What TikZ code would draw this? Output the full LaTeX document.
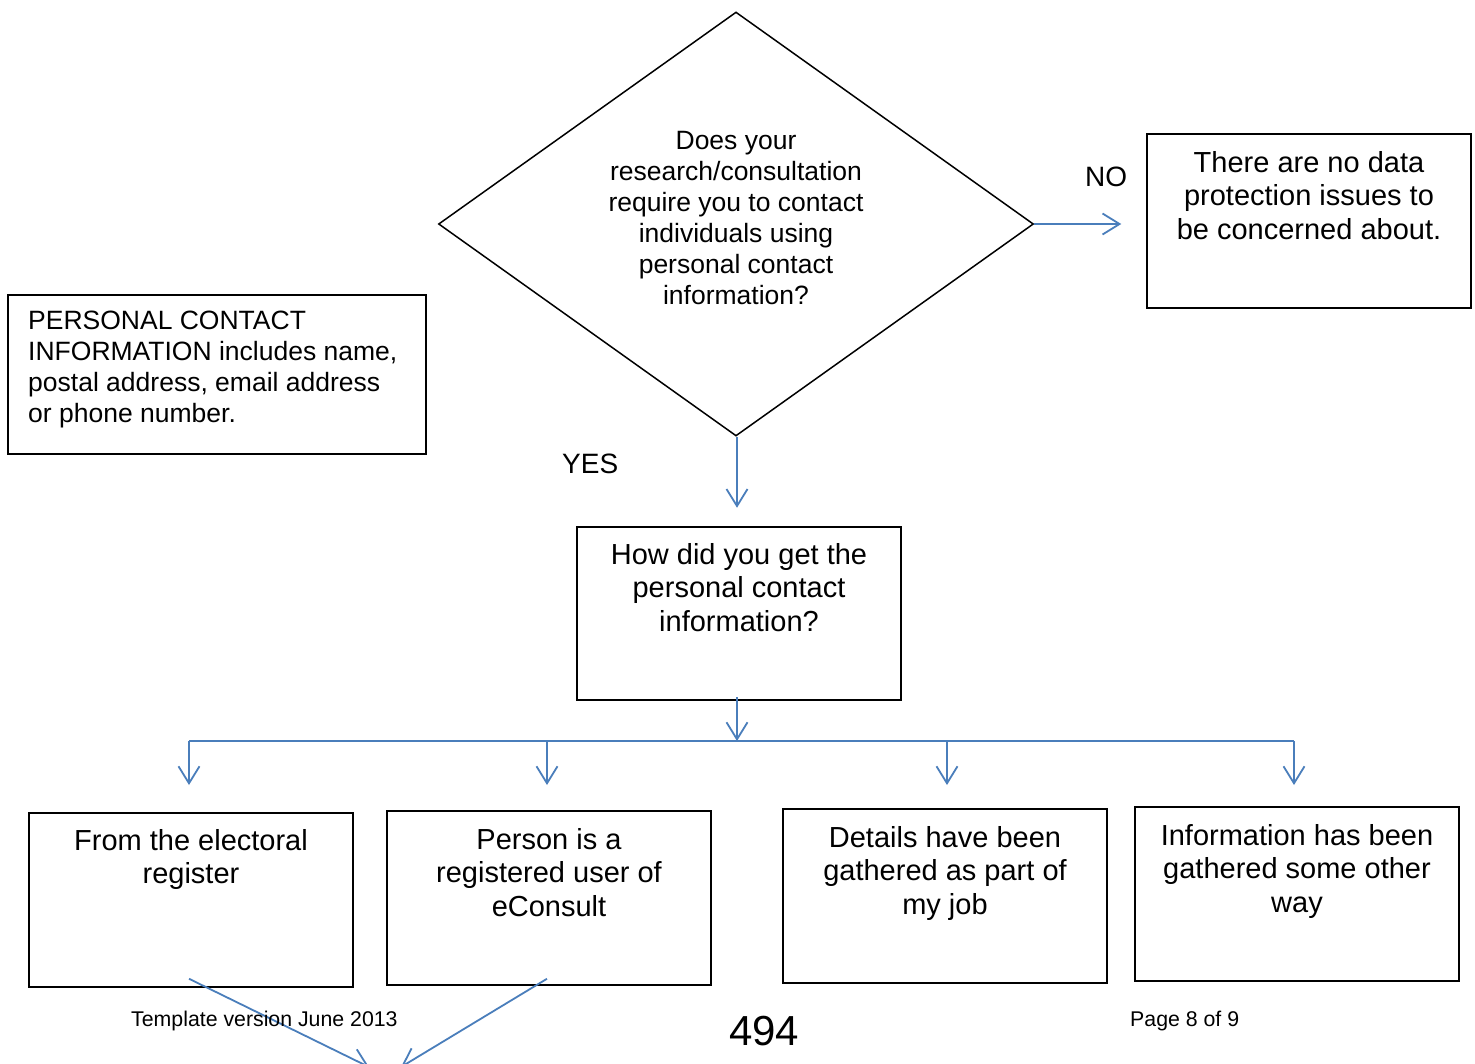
\documentclass[tikz,border=0pt]{standalone}
\usepackage{fontspec}
\setmainfont{Liberation Sans}
\usetikzlibrary{arrows.meta,shapes.geometric,calc}
\definecolor{flowblue}{HTML}{4A7EBB}
\begin{document}
\begin{tikzpicture}[x=1pt,y=-1pt,
  box/.style={draw=black, line width=1.5pt, minimum width=324pt, minimum height=174pt, inner sep=0pt},
  bigtxt/.style={font=\fontsize{29}{33.5}\selectfont, align=center, inner sep=0pt, anchor=north},
  smtxt/.style={font=\fontsize{26.5}{31}\selectfont, inner sep=0pt, anchor=north},
  lbl/.style={font=\fontsize{28}{32}\selectfont, inner sep=0pt, anchor=base west},
  flow/.style={draw=flowblue, line width=1.8pt, -{Straight Barb[length=17pt,width=21pt]}},
  flowline/.style={draw=flowblue, line width=1.8pt},
  foot/.style={font=\fontsize{21.3}{24}\selectfont, inner sep=0pt, anchor=base west}]
\useasboundingbox (0,0) rectangle (1475,1063);
\fill[white] (0,0) rectangle (1475,1063);

% decision
\node[draw=black, line width=1.5pt, diamond, minimum width=595pt, minimum height=424pt, inner sep=0pt] (q) at (736,224) {};
\node[smtxt, align=center] (qt) at (736,131) {Does your\\research/consultation\\require you to contact\\individuals using\\personal contact\\information?};

% boxes
\node[box] (no) at (1309,221) {};
\node[bigtxt] (not) at (1309,151) {There are no data\\protection issues to\\be concerned about.};

\node[box, minimum width=418pt, minimum height=159pt] (def) at (217,374.5) {};
\node[smtxt, anchor=north west, align=left] (deft) at (28,311) {PERSONAL CONTACT\\INFORMATION includes name,\\postal address, email address\\or phone number.};

\node[box, minimum height=173pt] (how) at (739,613.5) {};
\node[bigtxt] (howt) at (739,543) {How did you get the\\personal contact\\information?};

\node[box] (b1) at (191,900) {};
\node[bigtxt] (b1t) at (191,829) {From the electoral\\register};
\node[box] (b2) at (549,898) {};
\node[bigtxt] (b2t) at (549,828) {Person is a\\registered user of\\eConsult};
\node[box] (b3) at (945,896) {};
\node[bigtxt] (b3t) at (945,826) {Details have been\\gathered as part of\\my job};
\node[box] (b4) at (1297,894) {};
\node[bigtxt] (b4t) at (1297,824) {Information has been\\gathered some other\\way};

% labels
\node[lbl] (nolbl) at (1085,186) {NO};
\node[lbl] (yeslbl) at (562,473) {YES};

% connectors
\draw[flow] (q.east) -- ++(87,0);
\draw[flow] ($(q.south)+(1,0)$) -- ++(0,71);
\coordinate (bus) at (737,741);
\draw[flow] (737,697) -- (bus);
\draw[flowline] (189,741) -- (1294,741);
\draw[flow] (189,741) -- ++(0,44);
\draw[flow] (547,741) -- ++(0,44);
\draw[flow] (947,741) -- ++(0,44);
\draw[flow] (1294,741) -- ++(0,44);

\coordinate (off1) at (369,1067);
\coordinate (off2) at (401,1067);
\draw[flow] ($(b1.south)+(-2,-9)$) -- (off1);
\draw[flow] ($(b2.south)+(-2,-7)$) -- (off2);

% footer
\node[foot] (f1) at (131,1026) {Template version June 2013};
\node[foot, font=\fontsize{42}{46}\selectfont] (f2) at (729,1045) {494};
\node[foot] (f3) at (1130,1026) {Page 8 of 9};
\end{tikzpicture}
\end{document}
